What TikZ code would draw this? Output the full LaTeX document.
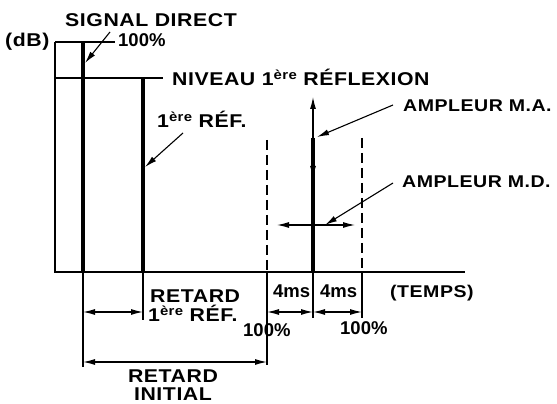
\documentclass[tikz,border=0pt]{standalone}
\usepackage{fontspec}
\setmainfont{Liberation Sans}
\newfontfamily\capsf{Liberation Sans}[FakeStretch=1.15, LetterSpace=3]
\usetikzlibrary{arrows.meta}
\newcommand\ere{\raisebox{6.5pt}{\fontsize{13}{13}\selectfont ère}}
\begin{document}
\begin{tikzpicture}[x=1pt,y=1pt,
  lab/.style={inner sep=0pt, anchor=base west, font=\capsf\bfseries\fontsize{18.5}{20}\selectfont},
  labs/.style={inner sep=0pt, anchor=base west, font=\capsf\bfseries\fontsize{17}{19}\selectfont},
  num/.style={inner sep=0pt, anchor=base west, font=\bfseries\fontsize{18.5}{20}\selectfont},
  thinl/.style={line width=1.1pt},
  sig/.style={line width=3.2pt},
  axis/.style={line width=1.6pt},
  dsh/.style={line width=2pt, dash pattern=on 10pt off 5pt},
  arr/.style={line width=1.1pt, -{Latex[length=12pt,width=6pt]}},
  darr/.style={line width=1.1pt, {Latex[length=12pt,width=6pt]}-{Latex[length=12pt,width=6pt]}},
]
\useasboundingbox (0,0) rectangle (557,404);
% key points
\coordinate (O) at (55,132);
\coordinate (Ytop) at (55,362);
\coordinate (Xend) at (465,132);
\coordinate (TopEnd) at (115,362);
\coordinate (Lvl0) at (55,326);
\coordinate (LvlEnd) at (163,326);
\coordinate (DStop) at (83,362);
\coordinate (DSbase) at (83,132);
\coordinate (DSlow) at (83,37);
\coordinate (R1top) at (143,326);
\coordinate (R1base) at (143,132);
\coordinate (R1low) at (143,84);
\coordinate (Ltop) at (267,264);
\coordinate (Lbase) at (267,132);
\coordinate (Llow) at (267,39);
\coordinate (Rtop) at (362,266);
\coordinate (Rbase) at (362,132);
\coordinate (Rlow) at (362,86);
\coordinate (Mtop) at (313,266);
\coordinate (Mbase) at (313,132);
\coordinate (Mlow) at (313,86);
\coordinate (MAup) at (313,307);
\coordinate (MAdn) at (313,226);
\coordinate (MDl) at (277,179);
\coordinate (MDr) at (355,179);
% axes and levels
\draw[axis] (Ytop) -- (O) -- (Xend);
\draw[thinl] (Ytop) -- (TopEnd);
\draw[thinl] (Lvl0) -- (LvlEnd);
% direct signal and first reflection
\draw[sig] (DStop) -- (DSbase);
\draw[thinl] (DSbase) -- (DSlow);
\draw[sig] (R1top) -- (R1base);
\draw[thinl] (R1base) -- (R1low);
% dashed limits
\draw[dsh] (Ltop) -- (Lbase);
\draw[thinl] (Lbase) -- (Llow);
\draw[dsh] (Rtop) -- (Rbase);
\draw[thinl] (Rbase) -- (Rlow);
% modulated reflection
\draw[sig] (Mtop) -- (Mbase);
\draw[thinl] (Mbase) -- (Mlow);
\draw[darr] (MAdn) -- (MAup);
\draw[darr] (MDl) -- (MDr);
% dimension arrows
\coordinate (a1) at (83,92); \coordinate (a2) at (143,92);
\coordinate (b1) at (267,92); \coordinate (b2) at (313,92); \coordinate (b3) at (362,92);
\coordinate (c1) at (83,42); \coordinate (c2) at (267,42);
\draw[darr] (a1) -- (a2);
\draw[darr] (b1) -- (b2);
\draw[darr] (b2) -- (b3);
\draw[darr] (c1) -- (c2);
% labels
\node[lab] (sd) at (65,377) {SIGNAL DIRECT};
\node[lab] (db) at (5,357) {(dB)};
\node[num] (p1) at (118,357) {100\%};
\node[lab] (niv) at (172,318) {NIVEAU 1\ere{} RÉFLEXION};
\node[lab] (ref1) at (157,276) {1\ere{} RÉF.};
\node[labs] (ma) at (403,292) {AMPLEUR M.A.};
\node[labs] (md) at (402,216) {AMPLEUR M.D.};
\node[lab] (ret1) at (150,101) {RETARD};
\node[lab] (ref2) at (148,82) {1\ere{} RÉF.};
\node[num] (ms1) at (273,106) {4ms};
\node[num] (ms2) at (320,106) {4ms};
\node[labs] (tps) at (390,106) {(TEMPS)};
\node[num] (p2) at (243,67) {100\%};
\node[num] (p3) at (340,69) {100\%};
\node[lab, anchor=base] (ret2) at (173,21) {RETARD};
\node[lab, anchor=base] (ini) at (173,3) {INITIAL};
% pointer arrows
\coordinate (sdT) at (110,372); \coordinate (sdH) at (85,341);
\coordinate (r1T) at (183,271); \coordinate (r1H) at (145,237);
\coordinate (maT) at (393,299); \coordinate (maH) at (317,267);
\coordinate (mdT) at (393,221); \coordinate (mdH) at (325,179);
\draw[arr] (sdT) -- (sdH);
\draw[arr] (r1T) -- (r1H);
\draw[arr] (maT) -- (maH);
\draw[arr] (mdT) -- (mdH);
\end{tikzpicture}
\end{document}
